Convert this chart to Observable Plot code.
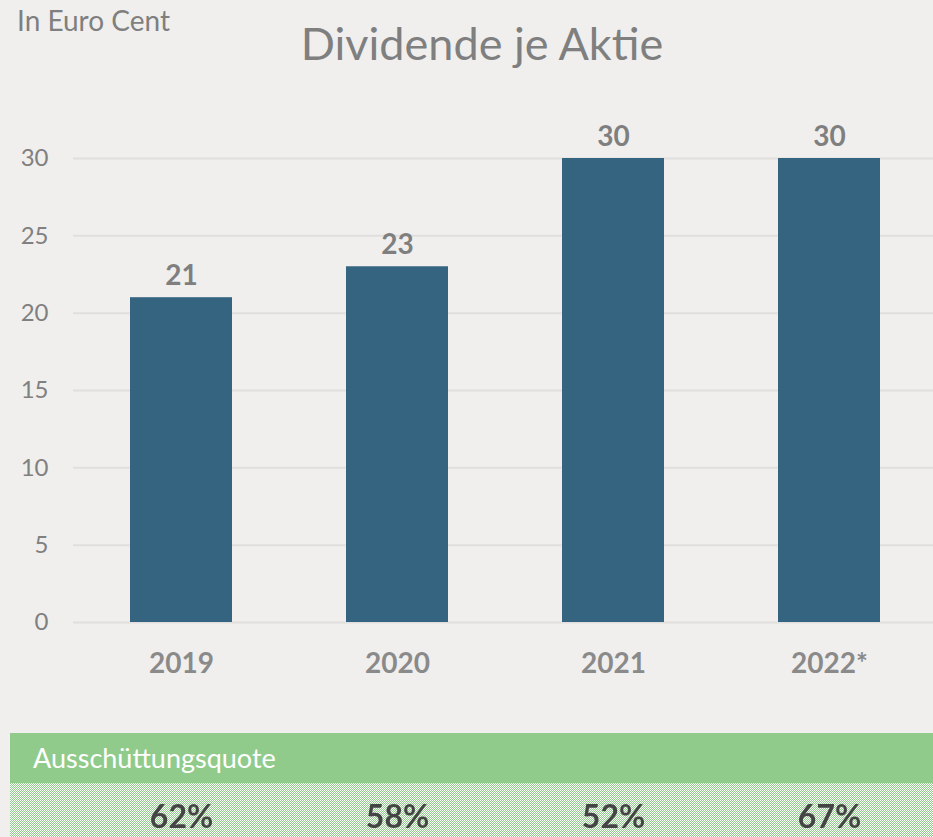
<!DOCTYPE html>
<html><head><meta charset="utf-8">
<script src="https://cdn.jsdelivr.net/npm/d3@7"></script>
<script src="https://cdn.jsdelivr.net/npm/@observablehq/plot@0.6"></script>
<style>
html,body{margin:0;padding:0;background:#f0efee;}
body{width:933px;height:837px;overflow:hidden;font-family:Lato,sans-serif;}
#wrap{position:relative;width:933px;height:837px;}
#unit{position:absolute;left:17px;top:3px;font-size:28px;color:#7f7f7f;white-space:nowrap;}
#title{position:absolute;left:0;width:964px;text-align:center;top:16px;font-size:45px;color:#7f7f7f;white-space:nowrap;}
#chart{position:absolute;left:0;top:0;}
#head{position:absolute;left:10px;top:733px;width:923px;height:50px;background:#90cb8b;}
#headtxt{position:absolute;left:33px;top:741px;font-size:27px;color:#fff;white-space:nowrap;}
#pat{position:absolute;left:10px;top:783px;width:923px;height:54px;display:block;}
#pct{position:absolute;left:0;top:783px;}
</style></head>
<body>
<div id="wrap">
  <div id="chart"></div>
  <div id="unit"></div>
  <div id="title"></div>
  <div id="head"></div>
  <div id="headtxt"></div>
  <canvas id="pat" width="923" height="54"></canvas>
  <div id="pct"></div>
</div>
<script>
const titleText = "Dividende je Aktie";
const unitText = "In Euro Cent";
const tableHeader = "Ausschüttungsquote";
const years = ["2019", "2020", "2021", "2022*"];
const dividends = [21, 23, 30, 30];
const payout = ["62%", "58%", "52%", "67%"];
const yTicks = [0, 5, 10, 15, 20, 25, 30];

document.getElementById("title").textContent = titleText;
document.getElementById("unit").textContent = unitText;
document.getElementById("headtxt").textContent = tableHeader;

// checkerboard background of the table row
const cv = document.getElementById("pat");
const ctx = cv.getContext("2d");
ctx.fillStyle = "#ffffff";
ctx.fillRect(0, 0, cv.width, cv.height);
ctx.fillStyle = "#90cb8b";
for (let yy = 0; yy < cv.height; yy++) {
  for (let xx = (yy % 2); xx < cv.width; xx += 2) ctx.fillRect(xx, yy, 1, 1);
}

const data = years.map((y, i) => ({year: y, value: dividends[i], payout: payout[i]}));
const xScale = {domain: years, range: [73, 937], paddingInner: 0.53, paddingOuter: 0.265, label: null};

const chart = Plot.plot({
  width: 933, height: 733,
  marginLeft: 73, marginRight: 0, marginTop: 158, marginBottom: 111,
  style: {background: "transparent", fontFamily: "Lato, sans-serif", color: "#7f7f7f", overflow: "visible"},
  x: xScale,
  y: {domain: [0, 30], label: null},
  marks: [
    Plot.gridY(yTicks, {stroke: "#e0dfdd", strokeOpacity: 1, strokeWidth: 2}),
    Plot.axisY(yTicks, {tickSize: 0, tickPadding: 25, fontSize: 24, fill: "#808080", label: null}),
    Plot.axisX({tickSize: 0, tickPadding: 31, fontSize: 28, fontWeight: "bold", fill: "#8a8a8a", label: null}),
    Plot.barY(data, {x: "year", y: "value", fill: "#356480"}),
    Plot.text(data, {x: "year", y: "value", text: d => String(d.value), lineAnchor: "bottom", dy: -13,
      fontSize: 28, fontWeight: "bold", fill: "#7f7f7f"})
  ]
});
document.getElementById("chart").appendChild(chart);

const pct = Plot.plot({
  width: 933, height: 54,
  margin: 0,
  style: {background: "transparent", fontFamily: "Lato, sans-serif", overflow: "visible"},
  x: {...xScale, axis: null},
  marks: [
    Plot.text(data, {x: "year", frameAnchor: "middle", text: "payout", dy: 7,
      fontSize: 32, fontWeight: "bold", fill: "#454545"})
  ]
});
document.getElementById("pct").appendChild(pct);
</script>
</body></html>
